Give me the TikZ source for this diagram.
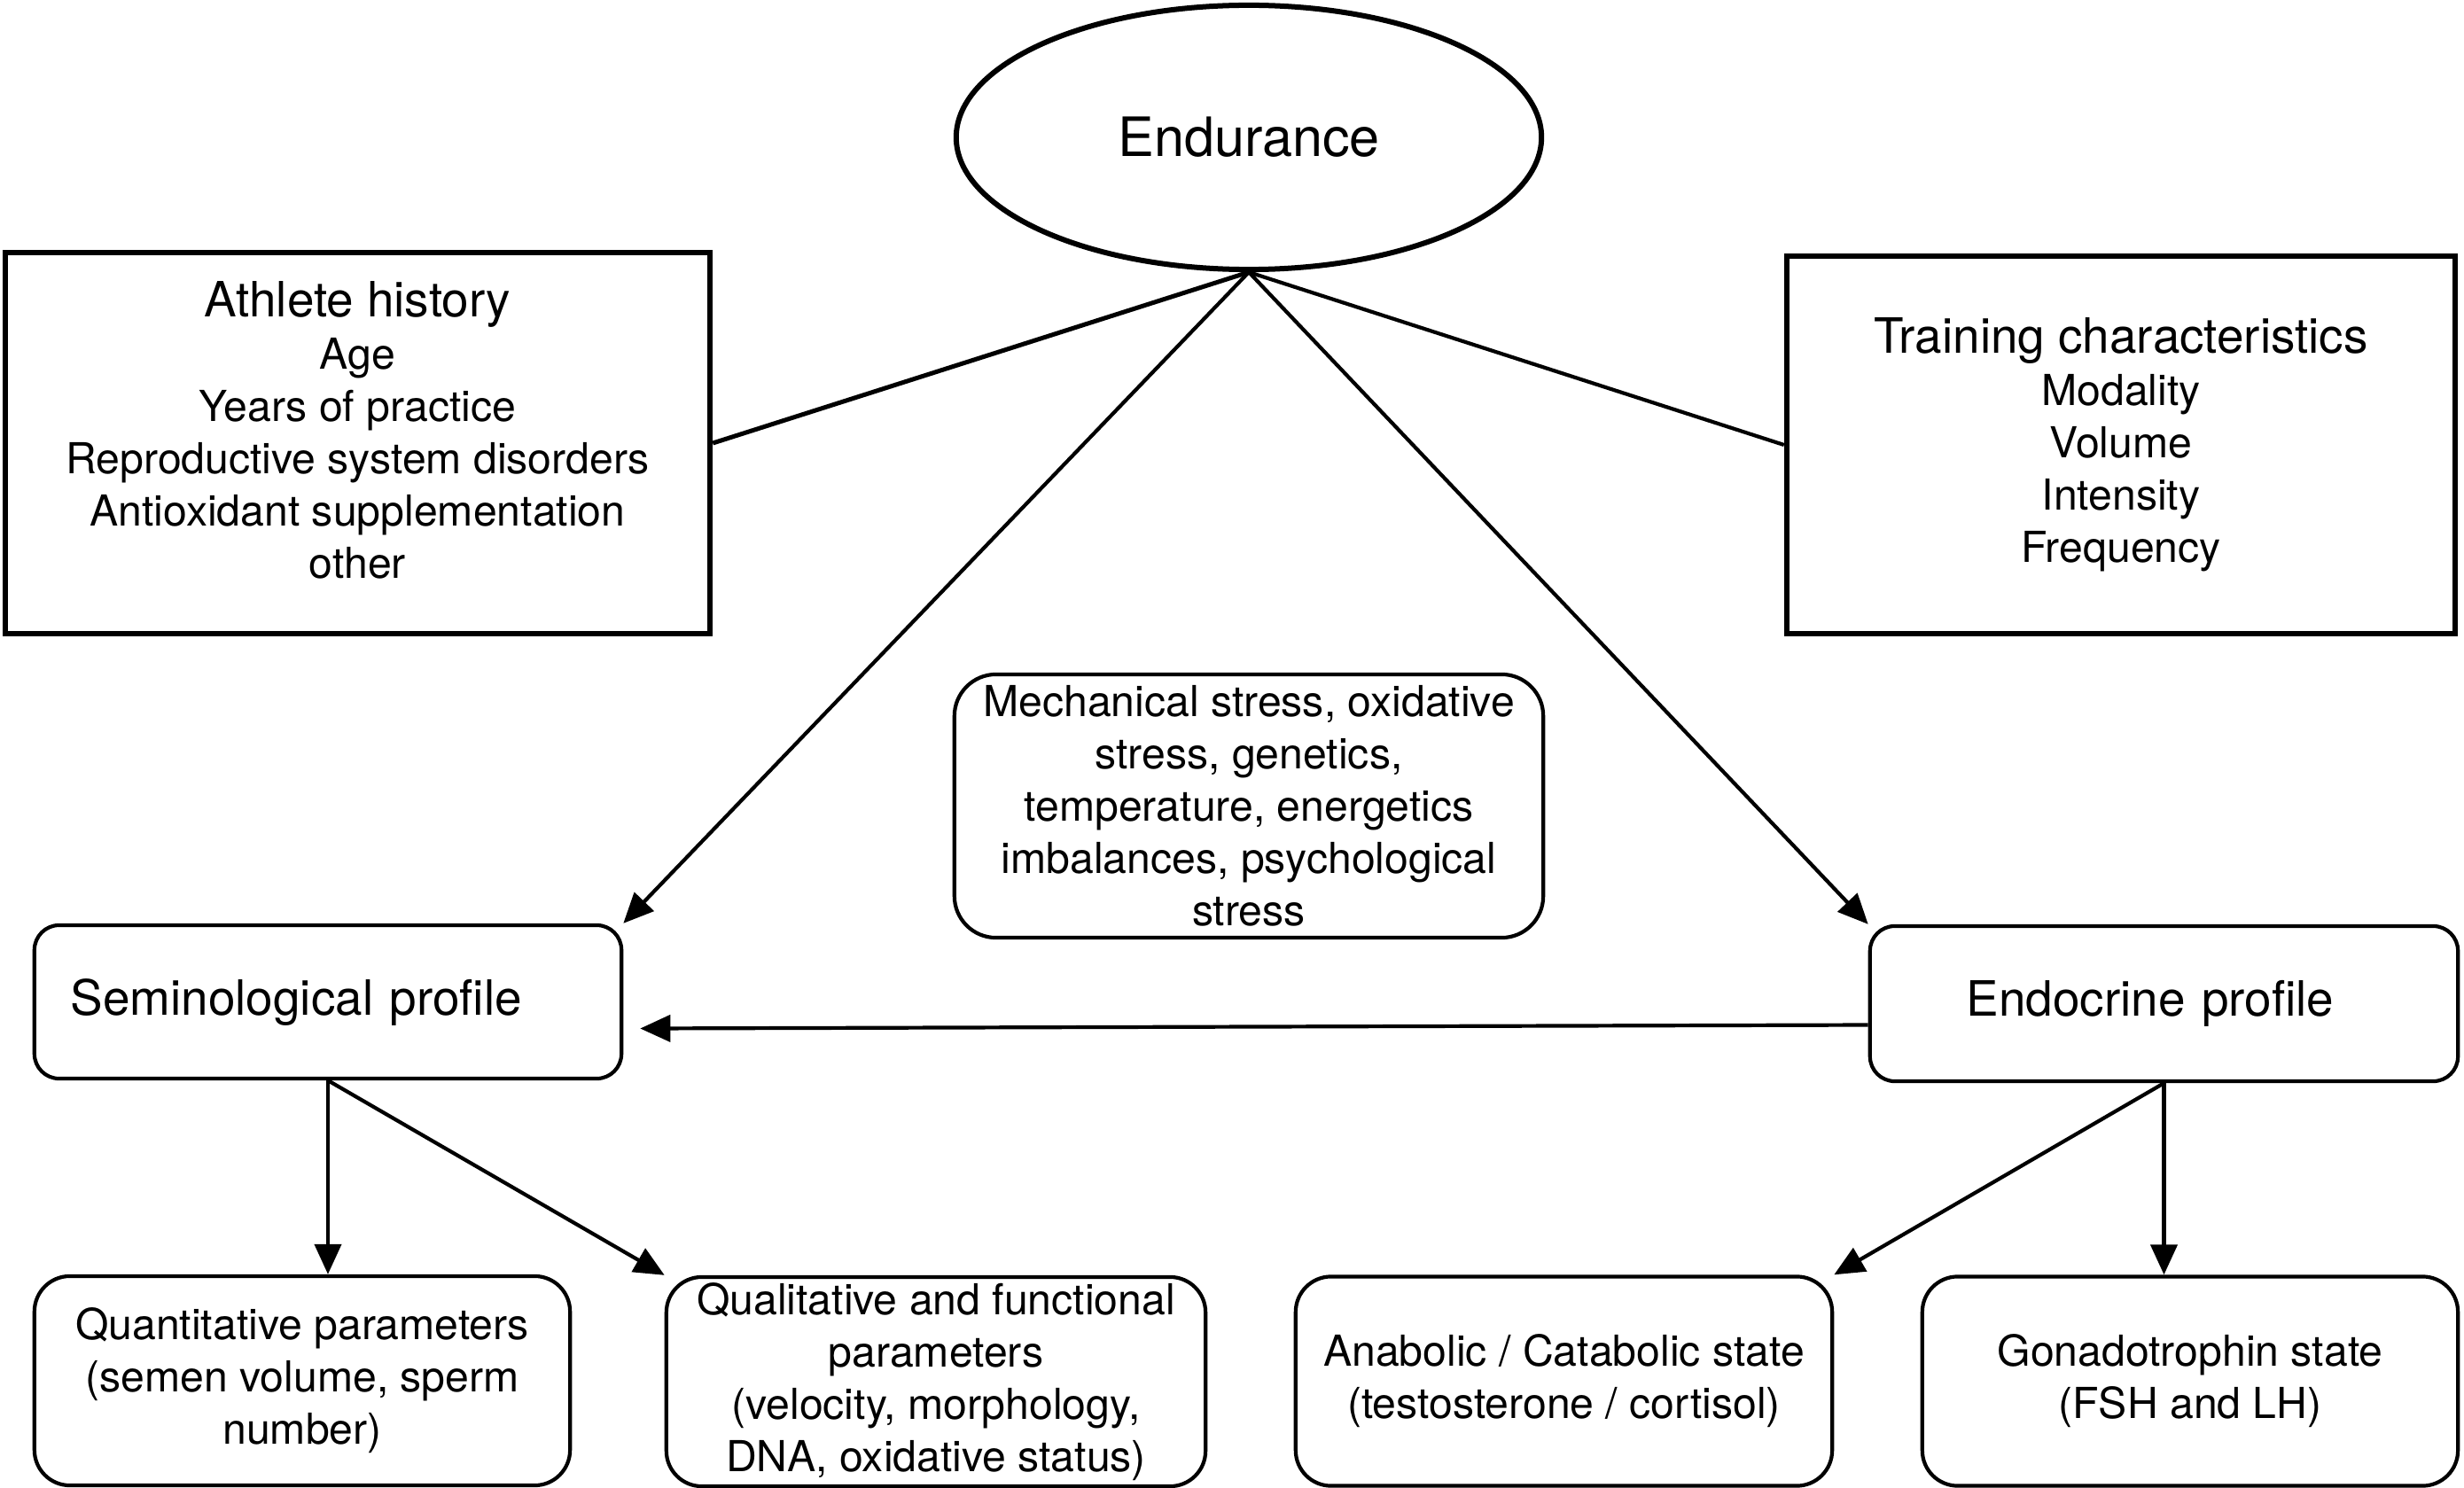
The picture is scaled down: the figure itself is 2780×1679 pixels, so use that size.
\documentclass[tikz,border=0pt]{standalone}
\usepackage{fontspec}
\setmainfont{TeX Gyre Heros}
\usetikzlibrary{arrows.meta,shapes.geometric}
\newcommand{\bodysize}{\fontsize{13.7pt}{16.8pt}\selectfont}
\newcommand{\headsize}{\fontsize{15.6pt}{17pt}\selectfont}
\begin{document}
\begin{tikzpicture}[x=0.01cm,y=-0.01cm,
  every node/.style={font=\bodysize, align=center, inner sep=0pt},
  plain/.style={draw, line width=0.06cm},
  soft/.style={draw, rounded corners=0.28cm, line width=0.042cm},
  leaf/.style={soft, rounded corners=0.4cm, minimum height=2.36cm},
  link/.style={line width=0.042cm},
  arr/.style={link, -{Triangle[length=0.34cm,width=0.3cm]}}]
 \useasboundingbox (0,0) rectangle (2780,1679);
 \node[plain, ellipse, minimum width=6.6cm, minimum height=2.98cm,
   font=\fontsize{17.4pt}{20pt}\selectfont] (endur) at (1409,155) {Endurance};
 \node[plain, minimum width=7.95cm, minimum height=4.3cm] (athl) at (403.5,500)
   {{\headsize Athlete history}\\Age\\Years of practice\\Reproductive system disorders\\Antioxidant supplementation\\other\\[-8.4pt]\mbox{}};
 \node[plain, minimum width=7.54cm, minimum height=4.26cm] (train) at (2393,502)
   {{\headsize Training characteristics}\\Modality\\Volume\\Intensity\\Frequency};
 \node[soft, rounded corners=0.47cm, minimum width=6.64cm, minimum height=2.97cm] (mech) at (1409,909.5)
   {Mechanical stress, oxidative\\stress, genetics,\\temperature, energetics\\imbalances, psychological\\stress};
 \node[soft, minimum width=6.62cm, minimum height=1.73cm, text width=5.8cm, align=left,
   font=\headsize] (semi) at (370,1130.5) {Seminological profile};
 \node[soft, minimum width=6.63cm, minimum height=1.75cm, text width=4.45cm, align=left,
   font=\headsize] (endo) at (2441.5,1132.5) {Endocrine profile};
 \node[leaf, minimum width=6.04cm] (quant) at (341,1558)
   {Quantitative parameters\\(semen volume, sperm\\number)};
 \node[leaf, minimum width=6.08cm] (qual) at (1056,1559)
   {Qualitative and functional\\parameters\\(velocity, morphology,\\DNA, oxidative status)};
 \node[leaf, minimum width=6.05cm] (anab) at (1764.5,1558.5)
   {Anabolic / Catabolic state\\(testosterone / cortisol)};
 \node[leaf, minimum width=6.04cm] (gonad) at (2471,1558.5)
   {Gonadotrophin state\\(FSH and LH)};
 \draw[link, line width=0.05cm] (endur.south) -- (athl.east);
 \draw[link] (endur.south) -- (train.west);
 \draw[arr] (endur.south) -- (semi.north east);
 \draw[arr] (endur.south) -- (endo.north west);
 \draw[arr] ([yshift=-0.24cm]endo.west) -- ([xshift=0.19cm,yshift=-0.3cm]semi.east);
 \draw[arr] (semi.south) -- (semi.south |- quant.north);
 \draw[arr] (semi.south) -- (qual.north west);
 \draw[arr] (endo.south) -- (anab.north east);
 \draw[arr] (endo.south) -- (endo.south |- gonad.north);
\end{tikzpicture}
\end{document}
